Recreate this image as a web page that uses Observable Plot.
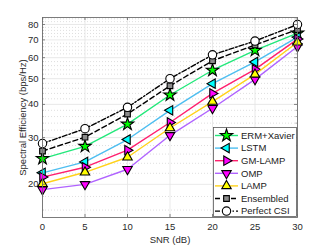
<!DOCTYPE html>
<html>
<head>
<meta charset="utf-8">
<script src="https://cdn.jsdelivr.net/npm/d3@7"></script>
<script src="https://cdn.jsdelivr.net/npm/@observablehq/plot@0.6"></script>
<style>
  html, body { margin: 0; padding: 0; background: #fff; }
  #wrap { position: relative; width: 327px; height: 245px; font-family: "Liberation Sans", Arial, sans-serif; }
  #legend { position: absolute; left: 0; top: 0; pointer-events: none; }
</style>
</head>
<body>
<div id="wrap"></div>
<script>
// ---- data ----
const snr = [0, 5, 10, 15, 20, 25, 30];
const ermXavier  = [25.0, 27.8, 33.7, 43.4, 53.8, 63.9, 74.2];
const lstm       = [22.1, 24.3, 29.5, 38.0, 47.9, 57.8, 71.7];
const gmLamp     = [21.3, 23.2, 26.9, 34.2, 44.0, 54.2, 70.5];
const omp        = [19.1, 20.0, 22.8, 30.6, 38.7, 49.7, 66.1];
const lamp       = [20.1, 22.2, 25.3, 32.6, 41.0, 51.9, 68.6];
const ensembled  = [26.7, 30.1, 36.8, 47.0, 58.4, 67.0, 76.6];
const perfectCsi = [28.5, 32.4, 39.0, 50.0, 61.5, 69.3, 80.0];
const seriesNames = ["ERM+Xavier", "LSTM", "GM-LAMP", "OMP", "LAMP", "Ensembled", "Perfect CSI"];
const xTicks = [0, 5, 10, 15, 20, 25, 30];
const yTicks = [20, 30, 40, 50, 60, 70, 80];
const yMinor = [16, 18, 22, 24, 26, 28, 32, 34, 36, 38, 42, 44, 46, 48, 52, 54, 56, 58, 62, 64, 66, 68, 72, 74, 76, 78, 82, 84];

// ---- styles ----
const valuesList = [ermXavier, lstm, gmLamp, omp, lamp, ensembled, perfectCsi];
const styles = [
  {line: "#22e87a", fill: "#00ff00", symbol: "star",     rotate: 0,   r: 3.9, dash: null},
  {line: "#4dbef0", fill: "#00ffff", symbol: "triangle", rotate: -90, r: 3.5, dash: null},
  {line: "#ff1f6e", fill: "#ff00ff", symbol: "triangle", rotate: 90,  r: 3.5, dash: null},
  {line: "#b063ff", fill: "#ff00ff", symbol: "triangle", rotate: 180, r: 3.5, dash: null},
  {line: "#ffd21a", fill: "#ffff00", symbol: "triangle", rotate: 0,   r: 3.5, dash: null},
  {line: "#000000", fill: "#8c8c8c", symbol: "square",   rotate: 0,   r: 3.2, dash: "5,3"},
  {line: "#000000", fill: "#ffffff", symbol: "circle",   rotate: 0,   r: 4.2, dash: "5,2,1.5,2"}
];

const rows = [];
seriesNames.forEach((name, i) => {
  snr.forEach((x, j) => rows.push({series: name, idx: i, snr: x, se: valuesList[i][j]}));
});

const marks = [
  Plot.ruleY(yMinor, {stroke: "#c8c8c8", strokeDasharray: "1,2", strokeWidth: 0.6}),
  Plot.gridY(yTicks, {stroke: "#e3e3e3", strokeOpacity: 1, strokeWidth: 0.8}),
  Plot.gridX(xTicks, {stroke: "#e3e3e3", strokeOpacity: 1, strokeWidth: 0.8}),
];
seriesNames.forEach((name, i) => {
  const data = rows.filter(d => d.idx === i);
  const s = styles[i];
  marks.push(Plot.line(data, {x: "snr", y: "se", stroke: s.line, strokeWidth: 1.4, strokeDasharray: s.dash}));
  marks.push(Plot.dot(data, {x: "snr", y: "se", symbol: () => s.symbol, r: s.r, fill: s.fill, stroke: "#000", strokeWidth: 1.1, rotate: s.rotate}));
});
// inward tick marks (MATLAB box style)
marks.push(
  Plot.ruleY(yTicks, {x1: 0, x2: 0.35, stroke: "#666", strokeWidth: 0.8}),
  Plot.ruleY(yTicks, {x1: 29.65, x2: 30, stroke: "#666", strokeWidth: 0.8}),
  Plot.ruleY(yMinor, {x1: 0, x2: 0.18, stroke: "#666", strokeWidth: 0.6}),
  Plot.ruleY(yMinor, {x1: 29.82, x2: 30, stroke: "#666", strokeWidth: 0.6}),
  Plot.ruleX(xTicks, {y1: 15, y2: 15.4, stroke: "#666", strokeWidth: 0.8}),
  Plot.ruleX(xTicks, {y1: 82.8, y2: 85, stroke: "#666", strokeWidth: 0.8}),
  Plot.frame({stroke: "#6e6e6e", strokeWidth: 0.9})
);

const chart = Plot.plot({
  width: 327,
  height: 245,
  marginLeft: 42,
  marginRight: 30,
  marginTop: 17,
  marginBottom: 28,
  style: {fontFamily: "'Liberation Sans', Arial, sans-serif", fontSize: "9.5px", color: "#2a2a2a", background: "#fff"},
  x: {domain: [0, 30], ticks: xTicks, tickSize: 0, tickPadding: 6, label: "SNR (dB)", labelAnchor: "center", labelOffset: 25, labelArrow: "none"},
  y: {type: "log", domain: [15, 85], ticks: yTicks, tickFormat: d => String(d), tickSize: 0, tickPadding: 4,
      label: "Spectral Efficiency (bps/Hz)", labelAnchor: "center", labelOffset: 23, labelArrow: "none"},
  marks
});
document.getElementById("wrap").appendChild(chart);

// ---- legend (inside the axes, lower-right corner) ----
const lg = d3.select("#wrap").append("svg").attr("id", "legend")
  .attr("width", 327).attr("height", 245)
  .style("font-family", "'Liberation Sans', Arial, sans-serif").style("font-size", "9.5px");
const lx = 213, ly = 127, lw = 84, lh = 90;
lg.append("rect").attr("x", lx + 0.5).attr("y", ly + 0.5).attr("width", lw - 1).attr("height", lh - 1)
  .attr("fill", "#fff").attr("stroke", "#5a5a5a").attr("stroke-width", 0.8);
const symMap = {star: d3.symbolStar, triangle: d3.symbolTriangle, square: d3.symbolSquare, circle: d3.symbolCircle};
seriesNames.forEach((name, i) => {
  const s = styles[i];
  const y = ly + 8.5 + i * 12.6;
  lg.append("line").attr("x1", lx + 2).attr("x2", lx + 25).attr("y1", y).attr("y2", y)
    .attr("stroke", s.line).attr("stroke-width", 1.4).attr("stroke-dasharray", s.dash);
  lg.append("path").attr("d", d3.symbol(symMap[s.symbol], Math.PI * s.r * s.r)())
    .attr("transform", `translate(${lx + 13.5},${y}) rotate(${s.rotate})`)
    .attr("fill", s.fill).attr("stroke", "#000").attr("stroke-width", 1.1);
  lg.append("text").attr("x", lx + 28).attr("y", y).attr("dy", "0.35em").attr("fill", "#222").text(name);
});
</script>
</body>
</html>
